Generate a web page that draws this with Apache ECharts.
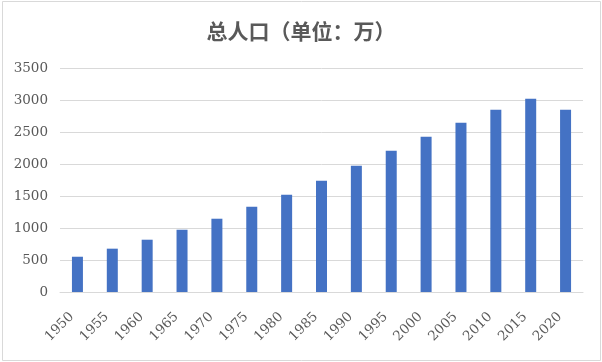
<!DOCTYPE html>
<html><head><meta charset="utf-8">
<script src="https://cdn.jsdelivr.net/npm/echarts@6/dist/echarts.min.js"></script>
<style>html,body{margin:0;padding:0;background:#fff}#c{width:602px;height:362px}</style>
</head><body><div id="c"></div>
<script>
const categories = ['1950','1955','1960','1965','1970','1975','1980','1985','1990','1995','2000','2005','2010','2015','2020'];
const population = [551, 677, 817, 973, 1145, 1333, 1520, 1739, 1973, 2208, 2427, 2645, 2848, 3020, 2848];
const yTicks = [0, 500, 1000, 1500, 2000, 2500, 3000, 3500];
const titleText = '总人口（单位：万）';

const chart = echarts.init(document.getElementById('c'), null, {renderer: 'canvas'});
chart.setOption({
  animation: false,
  backgroundColor: '#fff',
  graphic: [{type: 'rect', shape: {x: 2.5, y: 1.5, width: 598, height: 359}, style: {fill: 'none', stroke: '#d9d9d9', lineWidth: 1}, silent: true}],
  title: {text: titleText, left: 'center', top: 16,
    textStyle: {fontFamily: '"Noto Sans CJK SC"', fontWeight: 'bold', fontSize: 21, color: '#595959'}},
  grid: {left: 60, right: 19, top: 68, bottom: 70, containLabel: false},
  xAxis: {type: 'category', data: categories,
    axisLine: {lineStyle: {color: '#d9d9d9'}}, axisTick: {show: false},
    axisLabel: {rotate: 45, color: '#595959', fontFamily: '"DejaVu Serif"', fontSize: 13.5, margin: 17, interval: 0, padding: [0, 8, 0, 0]}},
  yAxis: {type: 'value', min: yTicks[0], max: yTicks[yTicks.length - 1], interval: yTicks[1] - yTicks[0],
    axisLine: {show: false}, axisTick: {show: false},
    splitLine: {lineStyle: {color: '#d9d9d9'}},
    axisLabel: {color: '#595959', fontFamily: '"DejaVu Serif"', fontSize: 13.5, margin: 12, formatter: v => String(v)}},
  series: [{type: 'bar', data: population, barWidth: 11, itemStyle: {color: '#4472c4'}}]
});
</script></body></html>
